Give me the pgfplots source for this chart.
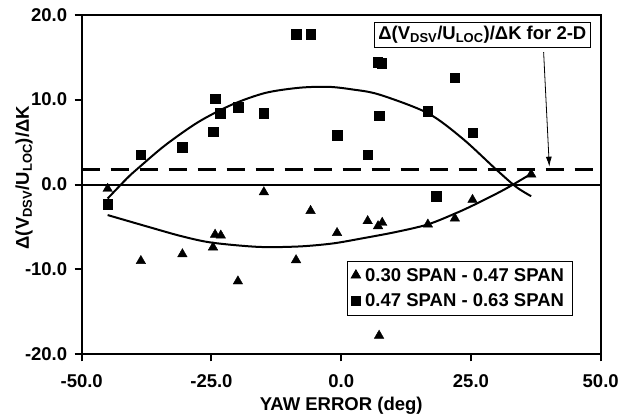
\documentclass[border=0pt]{standalone}
\usepackage{fontspec}
\setmainfont{Liberation Sans}
\usepackage{pgfplots}
\pgfplotsset{compat=1.18}
\usetikzlibrary{arrows.meta}
\newcommand\lbl{\fontsize{18.5bp}{21bp}\selectfont\bfseries}

% 0.30 span - 0.47 span
\pgfplotstableread{
x y
-45.0 -0.5
-38.6 -9.0
-30.6 -8.2
-24.7 -7.4
-24.3 -5.9
-23.2 -6.0
-19.9 -11.4
-14.9 -0.9
-8.7 -8.9
-5.9 -3.1
-0.8 -5.7
5.1 -4.3
7.1 -4.9
7.9 -4.5
7.3 -17.8
16.7 -4.7
21.9 -4.0
25.3 -1.8
36.6 1.2
}\tri

% 0.47 span - 0.63 span
\pgfplotstableread{
x y
-45.0 -2.3
-38.6 3.5
-30.6 4.4
-24.7 6.2
-24.3 10.1
-23.3 8.4
-19.9 9.1
-14.9 8.4
-8.7 17.7
-5.9 17.7
-0.8 5.8
5.1 3.5
7.0 14.4
7.8 14.3
7.3 8.1
16.7 8.6
18.3 -1.4
21.9 12.6
25.3 6.1
}\sq

% fitted trend curves
\pgfplotstableread{
x y
-45.0 -1.65
-41.3 0.71
-39.2 1.88
-33.9 4.63
-27.5 7.37
-21.0 9.42
-14.6 10.79
-8.0 11.40
-2.4 11.50
2.1 11.20
7.3 10.60
16.7 8.40
23.4 5.40
29.8 1.80
33.7 -0.28
36.6 -1.38
}\sqfit

\pgfplotstableread{
x y
-45.0 -3.60
-37.1 -5.00
-30.7 -6.10
-24.9 -6.85
-15.9 -7.35
-8.2 -7.30
-1.7 -6.95
4.0 -6.35
10.5 -5.60
16.7 -4.70
22.4 -3.30
26.6 -2.10
31.7 -0.50
36.9 1.37
}\trifit

\begin{document}
\begin{tikzpicture}
\begin{axis}[
    scale only axis,
    width=519bp, height=339.6bp,
    xmin=-50, xmax=50, ymin=-20, ymax=20,
    xtick={-50,-25,0,25,50},
    xticklabels={-50.0,-25.0,0.0,25.0,50.0},
    ytick={-20,-10,0,10,20},
    yticklabels={-20.0,-10.0,0.0,10.0,20.0},
    tick align=outside, xtick pos=bottom, ytick pos=left,
    major tick length=7bp,
    every tick/.style={black, line width=2bp},
    axis line style={line width=2.2bp},
    ticklabel style={font=\lbl},
    xticklabel style={yshift=-10bp},
    yticklabel style={xshift=-4bp},
    label style={font=\lbl},
    xlabel={YAW ERROR (deg)},
    xlabel style={at={(axis description cs:0.5,-0.152)}, anchor=center},
    ylabel={Δ(V\textsubscript{DSV}/U\textsubscript{LOC})/ΔK},
    ylabel style={at={(axis description cs:-0.111,0.52)}, anchor=center},
    legend style={at={(rel axis cs:0.5106,0.2756)}, anchor=north west,
        draw=black, line width=0.8bp, font=\lbl,
        inner xsep=4bp, inner ysep=5bp, row sep=7bp,
        nodes={inner xsep=4.5bp}},
    legend image code/.code={\draw[#1] plot coordinates {(0.25cm,0cm)};},
    legend cell align=left,
]
\addplot[forget plot, line width=2bp] coordinates {(-50,0) (50,0)};
\addplot[forget plot, line width=2.5bp, dash pattern=on 18bp off 11bp] coordinates {(-50,1.75) (50,1.75)};
\addplot[forget plot, smooth, line width=2bp] table {\sqfit};
\addplot[forget plot, smooth, line width=2bp] table {\trifit};
\addplot[only marks, mark=triangle*, mark size=5.5bp, black] table {\tri};
\addlegendentry{0.30 SPAN - 0.47 SPAN}
\addplot[only marks, mark=square*, mark size=4.8bp, black] table {\sq};
\addlegendentry{0.47 SPAN - 0.63 SPAN}
\node[draw, line width=0.8bp, fill=white, font=\lbl, inner sep=4bp] at (axis cs:27.2,17.6)
    {Δ(V\textsubscript{DSV}/U\textsubscript{LOC})/ΔK for 2-D};
\draw[-{Latex[length=10bp,width=6bp]}, line width=0.8bp] (axis cs:39.0,15.6) -- (axis cs:40.1,2.1);
\end{axis}
\path ([xshift=-81.7bp,yshift=-60.7bp]current axis.south west)
    rectangle ([xshift=26.3bp,yshift=14.7bp]current axis.north east);
\end{tikzpicture}
\end{document}
